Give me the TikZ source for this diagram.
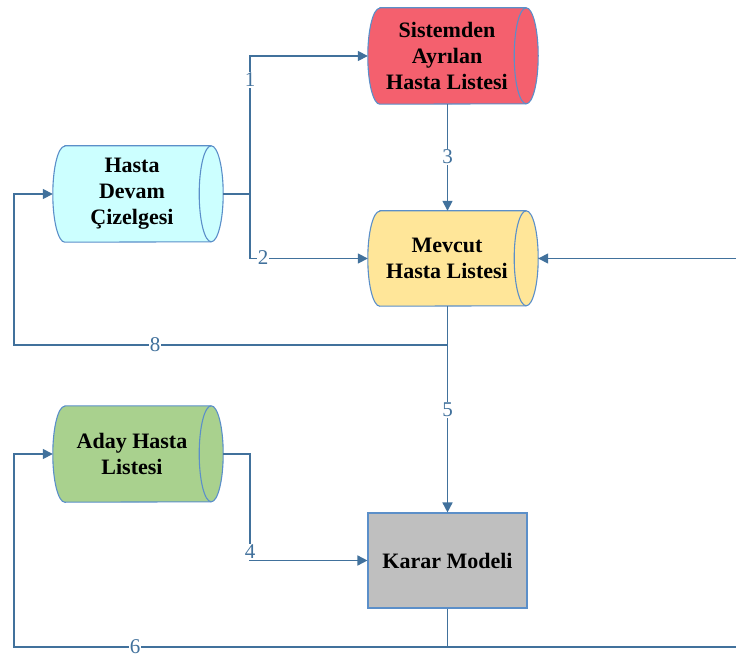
\documentclass[tikz,border=0pt]{standalone}
\usepackage{fontspec}
\setmainfont{Liberation Serif}
\usetikzlibrary{arrows.meta,calc,backgrounds}

\definecolor{linec}{HTML}{41719C}
\definecolor{edgec}{HTML}{5B8FC9}
\definecolor{redf}{HTML}{F4606E}
\definecolor{cyanf}{HTML}{CCFFFF}
\definecolor{goldf}{HTML}{FFE699}
\definecolor{greenf}{HTML}{A9D18E}
\definecolor{grayf}{HTML}{BFBFBF}

\tikzset{
  boxtext/.style={font=\fontsize{22}{26}\selectfont\bfseries, align=center, inner sep=0pt},
  cylborder/.style={draw=edgec, line width=1.1pt},
  flow/.style={draw=linec, line width=1.6pt},
  arr/.style={flow, -{Triangle[length=10pt,width=10pt]}},
  num/.style={fill=white, text=linec, font=\fontsize{21}{21}\selectfont, inner sep=0.6pt},
}

% stored-data cylinder: #1 name, #2 x, #3 y, #4 height, #5 fill, #6 text
\newcommand\datacyl[6]{%
  \node[boxtext, minimum width=158pt, minimum height=#4pt] (#1) at (#2,#3) {#6};
  \begin{scope}[on background layer]
    \path[cylborder, fill=#5]
      ($(#1.north west)+(12,0)$) -- (#1.north east)
      arc[start angle=90, end angle=-90, x radius=12, y radius=#4/2]
      -- ($(#1.south west)+(12,0)$)
      arc[start angle=270, end angle=90, x radius=12, y radius=#4/2] -- cycle;
    \draw[cylborder] (#1.north east)
      arc[start angle=90, end angle=270, x radius=12, y radius=#4/2];
  \end{scope}}

\begin{document}
\begin{tikzpicture}[x=1pt, y=1pt]
  \useasboundingbox (0,0) rectangle (736,657);

  \datacyl{Sis}{447}{601}{96}{redf}{Sistemden\\Ayrılan\\Hasta Listesi}
  \datacyl{HD}{132}{463}{96}{cyanf}{Hasta\\Devam\\Çizelgesi}
  \datacyl{Mev}{447}{398.5}{95}{goldf}{Mevcut\\Hasta Listesi}
  \datacyl{Aday}{132}{203}{96}{greenf}{Aday Hasta\\Listesi}

  \node[boxtext, draw=edgec, line width=1.1pt, fill=grayf,
        minimum width=159pt, minimum height=95pt] (Karar) at (447.5,96.5) {Karar Modeli};

  % junction points on the flow lines
  \coordinate (hdout) at (250,463);
  \coordinate (j8) at (447.5,312);
  \coordinate (j6) at (447.5,10);
  \coordinate (r6) at (736,10);
  \coordinate (r7) at (736,398.5);

  % flows 1 and 2
  \draw[flow] ($(HD.east)+(12,0)$) -- (hdout);
  \draw[arr] (hdout) |- (Sis.west);
  \draw[arr] (hdout) |- (Mev.west);
  % flow 3
  \draw[arr] (Sis.south -| Karar.north) -- (Mev.north -| Karar.north);
  % flow 5
  \draw[arr] (Mev.south -| Karar.north) -- (Karar.north);
  % flow 8
  \draw[arr] (j8) -- (14,312) |- (HD.west);
  % flow 4
  \draw[arr] ($(Aday.east)+(12,0)$) -- (250,203) |- (Karar.west);
  % flow 6
  \draw[flow] (Karar.south) -- (j6);
  \draw[arr] (r6) -- (14,10) |- (Aday.west);
  % flow 7
  \draw[arr] (r7) -- ($(Mev.east)+(12,0)$);

  % flow numbers
  \node[num] (n1) at (250,577) {1};
  \node[num] (n2) at (263,399) {2};
  \node[num] (n3) at (447.5,500) {3};
  \node[num] (n4) at (250,105) {4};
  \node[num] (n5) at (447.5,247) {5};
  \node[num] (n6) at (135,10) {6};
  \node[num] (n8) at (155,312) {8};
\end{tikzpicture}
\end{document}
